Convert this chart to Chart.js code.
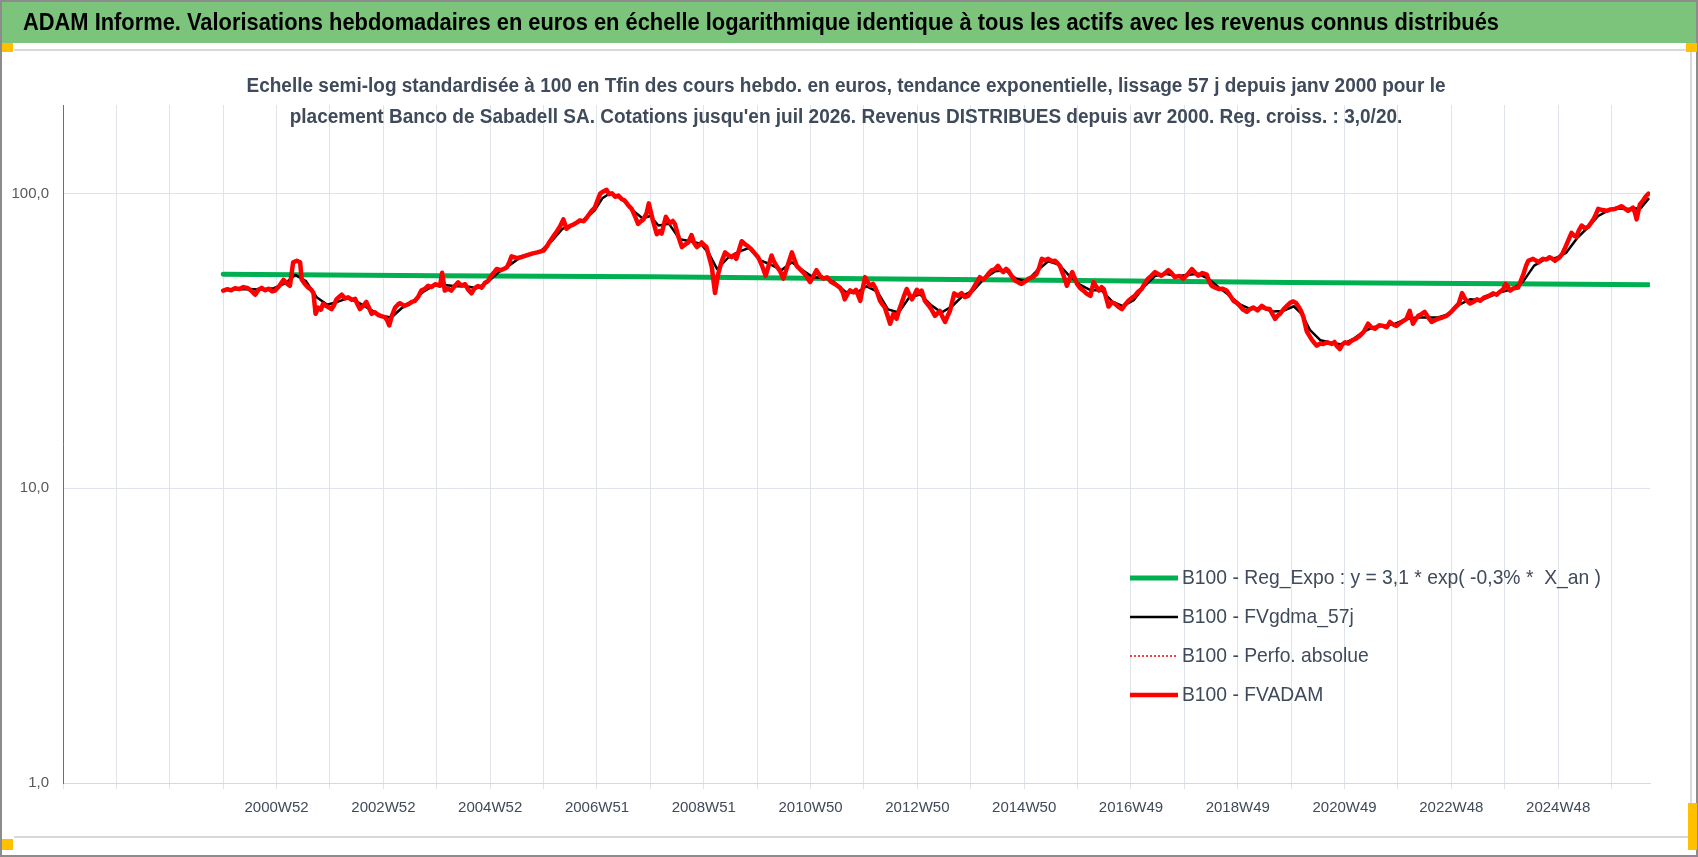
<!DOCTYPE html>
<html>
<head>
<meta charset="utf-8">
<title>ADAM Informe - Banco de Sabadell SA</title>
<script src="https://cdn.jsdelivr.net/npm/chart.js@4.4.0/dist/chart.umd.min.js"></script>
<style>
    html, body { margin: 0; padding: 0; background: #fff; }
    #wrap { width: 1698px; height: 857px; }
</style>
</head>
<body>
<div id="wrap"><canvas id="vis" width="1698" height="857"></canvas></div>
<script>
const titre = "ADAM Informe. Valorisations hebdomadaires en euros en échelle logarithmique identique à tous les actifs avec les revenus connus distribués";
const sousTitre = [
    "Echelle semi-log standardisée à 100 en Tfin des cours hebdo. en euros, tendance exponentielle, lissage 57 j depuis janv 2000 pour le",
    "placement Banco de Sabadell SA. Cotations jusqu'en juil 2026. Revenus DISTRIBUES depuis avr 2000. Reg. croiss. : 3,0/20."
];
const legendLabels = [
    "B100 - Reg_Expo : y = 3,1 * exp( -0,3% *  X_an )",
    "B100 - FVgdma_57j",
    "B100 - Perfo. absolue",
    "B100 - FVADAM"
];

// x ticks: one gridline per year, a label every two years
const tickYears  = [2001, 2003, 2005, 2007, 2009, 2011, 2013, 2015, 2017, 2019, 2021, 2023, 2025];
const tickLabels = ['2000W52', '2002W52', '2004W52', '2006W51', '2008W51', '2010W50', '2012W50',
                    '2014W50', '2016W49', '2018W49', '2020W49', '2022W48', '2024W48'];
const decadeTicks = [1, 10, 100];

// [year, value] pairs
const regExpo = [
    [2000.00, 53.3], [2004.0, 52.7], [2008.0, 52.3], [2012.0, 51.4], [2016.0, 50.7],
    [2020.0, 50.0], [2024.0, 49.5], [2026.69, 49.1]
];

const fvgdma = [
    [2000.05, 47.2], [2000.40, 47.5], [2000.70, 47.3], [2000.95, 47.8], [2001.15, 49.5], [2001.35, 53.0],
    [2001.55, 50.5], [2001.75, 44.5], [2001.95, 42.0], [2002.15, 43.0], [2002.35, 44.3], [2002.55, 42.5],
    [2002.75, 40.5], [2002.95, 38.5], [2003.15, 38.0], [2003.35, 41.0], [2003.55, 43.0], [2003.75, 46.5],
    [2003.95, 48.8], [2004.15, 49.0], [2004.35, 48.5], [2004.55, 48.5], [2004.75, 47.8], [2004.95, 50.0],
    [2005.15, 54.0], [2005.35, 57.0], [2005.55, 60.5], [2005.75, 62.0], [2005.95, 64.0], [2006.15, 69.0],
    [2006.35, 76.0], [2006.55, 78.5], [2006.75, 81.5], [2006.95, 87.5], [2007.10, 96.5], [2007.25, 100.5],
    [2007.45, 97.0], [2007.65, 88.5], [2007.85, 82.5], [2008.00, 84.0], [2008.15, 78.0], [2008.35, 79.0],
    [2008.55, 70.0], [2008.75, 69.0], [2008.95, 67.5], [2009.10, 62.5], [2009.25, 55.5], [2009.45, 60.5],
    [2009.65, 63.5], [2009.85, 65.5], [2010.05, 59.5], [2010.25, 57.5], [2010.45, 55.0], [2010.65, 58.5],
    [2010.85, 55.0], [2011.05, 52.0], [2011.25, 52.0], [2011.45, 50.0], [2011.65, 46.5], [2011.85, 46.0],
    [2012.05, 48.5], [2012.25, 46.5], [2012.45, 40.5], [2012.65, 39.5], [2012.85, 44.5], [2013.05, 45.5],
    [2013.25, 42.0], [2013.45, 39.5], [2013.65, 41.5], [2013.85, 45.0], [2014.05, 47.0], [2014.25, 51.5],
    [2014.45, 54.5], [2014.65, 55.0], [2014.85, 51.5], [2015.05, 50.5], [2015.25, 55.0], [2015.45, 59.0],
    [2015.65, 57.5], [2015.85, 52.5], [2016.05, 49.0], [2016.25, 47.0], [2016.45, 47.0], [2016.65, 43.0],
    [2016.85, 41.5], [2017.05, 43.5], [2017.25, 48.5], [2017.45, 52.5], [2017.65, 53.5], [2017.85, 52.5],
    [2018.05, 53.0], [2018.25, 53.5], [2018.45, 51.5], [2018.65, 48.0], [2018.85, 45.0], [2019.05, 42.0],
    [2019.25, 40.5], [2019.45, 41.0], [2019.65, 39.8], [2019.85, 40.0], [2020.05, 41.5], [2020.20, 39.0],
    [2020.35, 34.5], [2020.55, 31.8], [2020.75, 31.2], [2020.95, 30.8], [2021.15, 32.0], [2021.35, 34.0],
    [2021.55, 35.3], [2021.75, 35.6], [2021.95, 36.2], [2022.15, 37.5], [2022.35, 38.0], [2022.55, 38.0],
    [2022.75, 38.0], [2022.95, 39.0], [2023.15, 42.0], [2023.35, 43.8], [2023.55, 43.5], [2023.75, 45.0],
    [2023.95, 46.5], [2024.15, 47.5], [2024.35, 50.5], [2024.55, 57.0], [2024.75, 59.8], [2024.95, 60.5],
    [2025.15, 63.0], [2025.35, 70.5], [2025.55, 76.5], [2025.75, 84.0], [2025.95, 88.0], [2026.15, 89.0],
    [2026.35, 88.8], [2026.55, 89.5], [2026.69, 96.0]
];

const fvadam = [
    [2000.00, 46.9], [2000.08, 47.4], [2000.15, 47.0], [2000.22, 47.8], [2000.30, 47.5], [2000.38, 48.2],
    [2000.45, 47.9], [2000.52, 47.0], [2000.60, 45.4], [2000.66, 47.2], [2000.72, 47.9], [2000.78, 47.0],
    [2000.85, 47.6], [2000.92, 46.6], [2000.97, 46.9], [2001.05, 48.6], [2001.13, 51.0], [2001.20, 49.4],
    [2001.25, 48.7], [2001.31, 58.5], [2001.38, 59.2], [2001.44, 58.5], [2001.47, 51.2], [2001.53, 49.4],
    [2001.59, 48.1], [2001.65, 47.2], [2001.69, 46.0], [2001.73, 39.1], [2001.78, 41.1], [2001.83, 40.4],
    [2001.87, 42.3], [2001.95, 41.4], [2002.03, 40.6], [2002.08, 42.0], [2002.12, 43.8], [2002.17, 44.6],
    [2002.22, 45.4], [2002.28, 44.1], [2002.34, 44.5], [2002.41, 43.6], [2002.47, 44.0], [2002.52, 42.0],
    [2002.56, 40.6], [2002.62, 41.6], [2002.68, 42.9], [2002.73, 41.0], [2002.78, 39.1], [2002.84, 39.6],
    [2002.90, 38.8], [2002.96, 38.4], [2003.03, 38.1], [2003.07, 37.2], [2003.11, 35.7], [2003.16, 38.6],
    [2003.22, 41.1], [2003.27, 42.0], [2003.31, 42.5], [2003.39, 41.6], [2003.47, 42.2], [2003.53, 42.9],
    [2003.59, 43.3], [2003.65, 44.6], [2003.71, 46.9], [2003.78, 47.6], [2003.84, 48.7], [2003.90, 48.2],
    [2003.97, 49.3], [2004.06, 48.7], [2004.10, 53.9], [2004.15, 46.9], [2004.21, 47.6], [2004.27, 46.9],
    [2004.33, 48.5], [2004.40, 50.0], [2004.46, 48.8], [2004.53, 49.3], [2004.59, 47.2], [2004.65, 45.9],
    [2004.71, 47.8], [2004.77, 48.6], [2004.84, 48.0], [2004.90, 49.8], [2004.96, 50.6], [2005.02, 52.7],
    [2005.07, 54.0], [2005.12, 55.5], [2005.20, 55.0], [2005.31, 56.2], [2005.36, 58.6], [2005.40, 61.3],
    [2005.50, 60.4], [2005.59, 61.0], [2005.68, 61.8], [2005.78, 62.6], [2005.88, 63.2], [2006.00, 64.1],
    [2006.06, 66.2], [2006.12, 69.0], [2006.19, 72.0], [2006.25, 74.6], [2006.31, 77.5], [2006.37, 81.8],
    [2006.43, 76.1], [2006.50, 77.8], [2006.56, 78.6], [2006.62, 79.8], [2006.68, 81.2], [2006.75, 80.6],
    [2006.81, 83.0], [2006.90, 87.5], [2006.96, 89.8], [2007.01, 95.0], [2007.06, 100.0], [2007.12, 101.8],
    [2007.18, 103.1], [2007.23, 99.6], [2007.28, 100.3], [2007.34, 97.6], [2007.40, 98.5], [2007.46, 96.0],
    [2007.52, 94.8], [2007.58, 91.6], [2007.65, 88.8], [2007.71, 84.0], [2007.77, 79.0], [2007.82, 80.6],
    [2007.87, 81.8], [2007.93, 86.0], [2007.97, 92.7], [2008.05, 80.7], [2008.12, 72.9], [2008.17, 74.6],
    [2008.21, 73.2], [2008.29, 83.5], [2008.33, 81.0], [2008.37, 79.6], [2008.42, 80.8], [2008.46, 78.9],
    [2008.52, 72.0], [2008.59, 65.9], [2008.65, 67.2], [2008.71, 68.3], [2008.77, 72.4], [2008.82, 68.0],
    [2008.87, 65.9], [2008.92, 67.0], [2008.96, 68.3], [2009.01, 66.8], [2009.05, 65.9], [2009.10, 61.0],
    [2009.15, 56.4], [2009.21, 46.0], [2009.27, 53.4], [2009.33, 58.6], [2009.40, 63.2], [2009.46, 61.8],
    [2009.52, 60.9], [2009.57, 62.0], [2009.61, 60.1], [2009.66, 64.4], [2009.71, 69.0], [2009.77, 67.4],
    [2009.83, 66.3], [2009.89, 64.8], [2009.96, 62.6], [2010.02, 60.8], [2010.08, 57.6], [2010.16, 52.7],
    [2010.22, 57.4], [2010.27, 61.7], [2010.31, 59.0], [2010.36, 56.9], [2010.43, 54.6], [2010.49, 51.5],
    [2010.57, 57.0], [2010.65, 63.2], [2010.70, 59.6], [2010.74, 56.9], [2010.82, 55.0], [2010.89, 53.4],
    [2010.99, 50.1], [2011.05, 52.4], [2011.11, 55.0], [2011.17, 52.8], [2011.24, 51.5], [2011.31, 52.0],
    [2011.39, 50.1], [2011.47, 49.2], [2011.55, 48.0], [2011.60, 46.4], [2011.64, 43.8], [2011.69, 45.6],
    [2011.74, 47.0], [2011.80, 46.2], [2011.85, 47.2], [2011.93, 43.3], [2012.02, 52.1], [2012.07, 50.0],
    [2012.12, 48.7], [2012.17, 49.4], [2012.21, 48.0], [2012.26, 45.6], [2012.30, 43.3], [2012.35, 42.0],
    [2012.39, 41.1], [2012.44, 38.6], [2012.49, 36.2], [2012.55, 39.1], [2012.61, 37.6], [2012.66, 40.4],
    [2012.70, 42.3], [2012.75, 45.0], [2012.80, 47.5], [2012.85, 45.4], [2012.90, 43.8], [2012.95, 45.6],
    [2012.99, 47.2], [2013.04, 46.0], [2013.08, 46.9], [2013.14, 43.3], [2013.20, 42.0], [2013.26, 40.6],
    [2013.33, 38.5], [2013.42, 40.0], [2013.47, 38.2], [2013.52, 36.7], [2013.57, 38.6], [2013.61, 40.0],
    [2013.69, 45.9], [2013.76, 45.0], [2013.83, 46.0], [2013.89, 44.6], [2013.95, 45.0], [2014.04, 47.5],
    [2014.10, 49.6], [2014.17, 52.1], [2014.23, 51.0], [2014.29, 52.3], [2014.34, 53.8], [2014.39, 54.9],
    [2014.45, 55.4], [2014.51, 56.9], [2014.56, 55.2], [2014.61, 54.2], [2014.66, 55.6], [2014.70, 54.9],
    [2014.77, 52.4], [2014.83, 50.7], [2014.89, 50.0], [2014.95, 49.4], [2015.02, 50.4], [2015.08, 51.5],
    [2015.15, 52.0], [2015.23, 53.4], [2015.28, 56.0], [2015.33, 60.1], [2015.39, 59.4], [2015.45, 60.1],
    [2015.52, 59.0], [2015.58, 59.2], [2015.63, 58.0], [2015.67, 56.9], [2015.74, 52.6], [2015.80, 48.7],
    [2015.85, 51.4], [2015.90, 54.2], [2015.95, 51.6], [2015.99, 49.4], [2016.05, 47.8], [2016.11, 46.9],
    [2016.17, 45.8], [2016.24, 45.0], [2016.30, 50.1], [2016.35, 48.4], [2016.40, 46.9], [2016.45, 48.2],
    [2016.49, 47.5], [2016.54, 44.0], [2016.58, 41.4], [2016.64, 42.8], [2016.70, 42.3], [2016.77, 41.2],
    [2016.83, 40.6], [2016.89, 42.0], [2016.95, 43.3], [2017.01, 44.2], [2017.07, 45.0], [2017.13, 46.4],
    [2017.20, 47.5], [2017.26, 49.6], [2017.32, 51.5], [2017.38, 52.6], [2017.45, 54.2], [2017.51, 53.4],
    [2017.57, 52.7], [2017.63, 53.6], [2017.70, 55.0], [2017.76, 53.8], [2017.82, 52.1], [2017.90, 52.6],
    [2017.98, 51.5], [2018.06, 53.2], [2018.14, 55.5], [2018.20, 54.0], [2018.26, 52.7], [2018.34, 53.8],
    [2018.42, 53.1], [2018.46, 50.6], [2018.51, 48.7], [2018.58, 48.0], [2018.64, 47.5], [2018.72, 47.6],
    [2018.79, 46.9], [2018.86, 45.0], [2018.92, 43.3], [2018.98, 42.6], [2019.04, 41.6], [2019.10, 40.4],
    [2019.17, 39.7], [2019.23, 40.6], [2019.29, 41.1], [2019.37, 40.2], [2019.45, 41.6], [2019.52, 40.8],
    [2019.60, 40.6], [2019.65, 39.0], [2019.70, 37.6], [2019.75, 38.6], [2019.79, 39.1], [2019.86, 40.6],
    [2019.92, 41.6], [2019.98, 42.6], [2020.04, 43.1], [2020.09, 42.6], [2020.13, 41.6], [2020.18, 40.2],
    [2020.23, 38.1], [2020.29, 34.2], [2020.34, 33.0], [2020.38, 32.1], [2020.43, 31.2], [2020.48, 30.5],
    [2020.54, 31.0], [2020.60, 30.9], [2020.68, 31.3], [2020.76, 30.9], [2020.81, 31.4], [2020.85, 30.5],
    [2020.91, 29.7], [2020.96, 30.8], [2021.01, 31.3], [2021.07, 31.0], [2021.13, 31.7], [2021.21, 32.2],
    [2021.29, 33.0], [2021.36, 34.0], [2021.44, 36.2], [2021.50, 35.2], [2021.57, 34.8], [2021.65, 35.8],
    [2021.72, 35.6], [2021.79, 35.2], [2021.85, 36.7], [2021.91, 36.0], [2021.97, 35.6], [2022.04, 36.4],
    [2022.10, 37.0], [2022.16, 37.6], [2022.22, 40.0], [2022.28, 36.2], [2022.33, 37.4], [2022.38, 38.5],
    [2022.44, 39.0], [2022.50, 39.7], [2022.56, 38.2], [2022.63, 36.7], [2022.69, 37.2], [2022.75, 37.6],
    [2022.83, 38.0], [2022.91, 38.5], [2022.99, 39.6], [2023.07, 41.1], [2023.14, 42.4], [2023.20, 46.0],
    [2023.25, 44.2], [2023.29, 43.3], [2023.35, 42.4], [2023.41, 42.9], [2023.48, 43.8], [2023.54, 43.3],
    [2023.62, 44.5], [2023.70, 45.0], [2023.78, 45.9], [2023.85, 45.4], [2023.91, 46.5], [2023.97, 47.4],
    [2024.02, 49.4], [2024.10, 46.9], [2024.17, 47.8], [2024.25, 48.0], [2024.30, 50.6], [2024.35, 53.4],
    [2024.40, 57.0], [2024.44, 59.2], [2024.53, 60.1], [2024.58, 59.4], [2024.63, 58.5], [2024.68, 59.6],
    [2024.72, 60.1], [2024.78, 59.8], [2024.84, 60.9], [2024.89, 60.2], [2024.94, 59.2], [2025.03, 60.9],
    [2025.08, 62.6], [2025.12, 64.9], [2025.18, 68.8], [2025.25, 73.6], [2025.30, 72.0], [2025.34, 71.4],
    [2025.39, 75.2], [2025.44, 78.0], [2025.50, 76.4], [2025.56, 77.1], [2025.61, 79.4], [2025.66, 81.8],
    [2025.71, 85.4], [2025.75, 88.8], [2025.83, 88.0], [2025.91, 87.5], [2025.98, 88.4], [2026.06, 88.8],
    [2026.12, 89.6], [2026.19, 90.7], [2026.25, 89.0], [2026.31, 87.5], [2026.36, 88.6], [2026.40, 89.7],
    [2026.44, 86.0], [2026.47, 81.8], [2026.53, 92.0], [2026.58, 94.2], [2026.63, 97.4], [2026.69, 100.0]
];

const pts = arr => arr.map(([x, y]) => ({ x, y }));
const SANS = "'Liberation Sans', Arial, sans-serif";
const SLATE = '#3f4a5a';

// text squeezed horizontally to the width it takes in the picture
function fitText(ctx, text, x, y, width, center) {
    const w = ctx.measureText(text).width;
    ctx.save();
    ctx.translate(x, y);
    ctx.scale(width / w, 1);
    ctx.textAlign = 'left';
    ctx.fillText(text, center ? -w / 2 : 0, 0);
    ctx.restore();
}

const frame = {
    id: 'frame',
    beforeDraw(chart) {
        const ctx = chart.ctx;
        ctx.save();
        ctx.fillStyle = '#fff';
        ctx.fillRect(0, 0, 1698, 857);
        ctx.fillStyle = '#7cc47c';
        ctx.fillRect(2, 2, 1694, 41);
        ctx.strokeStyle = '#d9d9d9';
        ctx.lineWidth = 2;
        ctx.beginPath();
        ctx.moveTo(14, 50); ctx.lineTo(1691, 50); ctx.lineTo(1691, 837); ctx.lineTo(14, 837);
        ctx.stroke();
        ctx.strokeStyle = '#8c8c8c';
        ctx.strokeRect(1, 1, 1696, 855);
        ctx.fillStyle = '#ffc000';
        ctx.fillRect(2, 43, 11, 9);
        ctx.fillRect(1686, 43, 11, 9);
        ctx.fillRect(2, 839, 11, 11);
        ctx.fillRect(1688, 803, 9, 47);
        ctx.fillStyle = '#000';
        ctx.font = 'bold 24px ' + SANS;
        ctx.textBaseline = 'middle';
        fitText(ctx, titre, 23, 23, 1476, false);
        ctx.restore();
    },
    afterDraw(chart) {
        const ctx = chart.ctx;
        ctx.save();
        ctx.textBaseline = 'middle';
        ctx.fillStyle = SLATE;
        ctx.font = 'bold 20px ' + SANS;
        const s = 1199 / ctx.measureText(sousTitre[0]).width;
        sousTitre.forEach((t, i) => {
            const w = ctx.measureText(t).width * s;
            fitText(ctx, t, 846, 86 + i * 31, w, true);
        });

        // legend inside the plot, bottom right
        ctx.font = '21px ' + SANS;
        const k = 419 / ctx.measureText(legendLabels[0]).width;
        chart.data.datasets.forEach((ds, i) => {
            const y = 578 + i * 39;
            ctx.save();
            ctx.strokeStyle = ds.borderColor;
            ctx.lineWidth = ds.borderWidth;
            ctx.setLineDash(ds.borderDash || []);
            ctx.beginPath();
            ctx.moveTo(1130, y);
            ctx.lineTo(1178, y);
            ctx.stroke();
            ctx.restore();
            ctx.fillStyle = SLATE;
            fitText(ctx, ds.label, 1182, y, ctx.measureText(ds.label).width * k, false);
        });
        ctx.restore();
    }
};

new Chart(document.getElementById('vis'), {
    type: 'line',
    data: {
        datasets: [
            { label: legendLabels[0], data: pts(regExpo), borderColor: '#00b050', borderWidth: 5, order: 3 },
            { label: legendLabels[1], data: pts(fvgdma), borderColor: '#000000', borderWidth: 2.5, order: 2 },
            { label: legendLabels[2], data: pts(fvadam), borderColor: '#ff0000', borderWidth: 1.5, borderDash: [2, 2], order: 1 },
            { label: legendLabels[3], data: pts(fvadam), borderColor: '#ff0000', borderWidth: 4.5, order: 0 }
        ]
    },
    options: {
        responsive: false,
        animation: false,
        events: [],
        layout: { padding: { top: 105, right: 48, left: 0, bottom: 0 } },
        elements: {
            point: { radius: 0 },
            line: { tension: 0, borderJoinStyle: 'round', borderCapStyle: 'round' }
        },
        plugins: {
            legend: { display: false },
            title: { display: false },
            tooltip: { enabled: false }
        },
        scales: {
            x: {
                type: 'linear',
                min: 1997,
                max: 2026.72,
                afterBuildTicks: s => {
                    const t = [];
                    for (let v = 1997; v <= 2026; v++) t.push({ value: v });
                    s.ticks = t;
                },
                afterFit: s => { s.height = 74; },
                ticks: {
                    autoSkip: false,
                    maxRotation: 0,
                    padding: 10,
                    color: SLATE,
                    font: { family: SANS, size: 15 },
                    callback: v => {
                        const i = tickYears.indexOf(v);
                        return i >= 0 ? tickLabels[i] : '';
                    }
                },
                grid: { color: '#dfe3ea', tickLength: 6 },
                border: { color: '#d9d9d9', width: 1 }
            },
            y: {
                type: 'logarithmic',
                min: 1,
                max: 200,
                afterBuildTicks: s => { s.ticks = decadeTicks.map(v => ({ value: v })); },
                afterFit: s => { s.width = 63; },
                ticks: {
                    padding: 14,
                    color: '#595959',
                    font: { family: SANS, size: 15 },
                    callback: v => v.toFixed(1).replace('.', ',')
                },
                grid: { color: '#dfe3ea', drawTicks: false },
                border: { color: '#4472c4', width: 1 }
            }
        }
    },
    plugins: [frame]
});
</script>
</body>
</html>
